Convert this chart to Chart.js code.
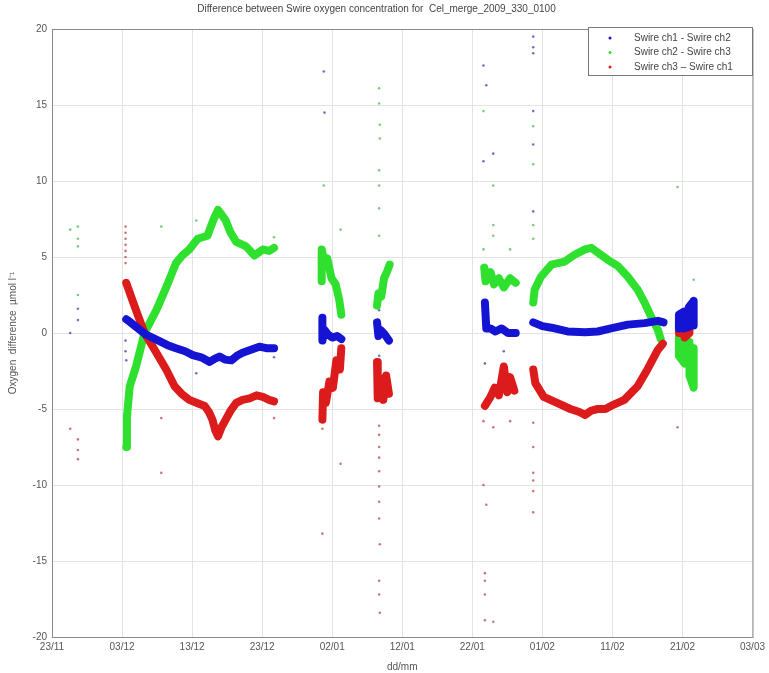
<!DOCTYPE html>
<html>
<head>
<meta charset="utf-8">
<script src="https://cdn.jsdelivr.net/npm/chart.js@4.4.1/dist/chart.umd.min.js"></script>
<style>
  html, body { margin: 0; padding: 0; background: #fff; }
  #wrap { width: 769px; height: 673px; }
</style>
</head>
<body>
<div id="wrap"><canvas id="c" width="769" height="673"></canvas></div>
<script>
// x = days since 23/11, y = difference (umol/l); null y breaks the band
const xTickLabels = ["23/11", "03/12", "13/12", "23/12", "02/01", "12/01", "22/01", "01/02", "11/02", "21/02", "03/03"];
const seriesNames = ["Swire ch1 - Swire ch2", "Swire ch2 - Swire ch3", "Swire ch3 \u2013 Swire ch1"];
const seriesColors = ["#1414d2", "#2fe02f", "#dc1c1c"];
const dotColors = ["rgba(40,40,150,0.65)", "rgba(60,170,60,0.65)", "rgba(170,50,50,0.65)"];

const ch12Band = [
  [10.6, 0.9], [11.2, 0.7], [12.0, 0.4], [13.4, -0.1], [15.2, -0.5], [16.5, -0.8], [17.7, -1.0], [19.0, -1.2],
  [20.1, -1.45], [21.3, -1.6], [22.5, -1.9], [23.2, -1.7], [23.9, -1.55], [24.7, -1.75], [25.6, -1.8],
  [26.4, -1.5], [27.2, -1.3], [28.4, -1.1], [29.6, -0.9], [30.6, -1.0], [31.7, -1.0], [32, null],
  [38.6, 1.0], [38.6, -0.5], [38.9, 0.2], [39.4, -0.1], [40.0, -0.3], [40.7, -0.2], [41.3, -0.4], [42, null],
  [46.4, 0.7], [46.6, -0.2], [46.9, 0.2], [47.5, -0.1], [48.1, -0.5], [49, null],
  [61.8, 2.0], [62.0, 0.3], [62.6, 0.3], [63.3, 0.1], [64.2, 0.3], [65.1, 0.0], [66.2, 0.0], [67, null],
  [68.7, 0.7], [70.0, 0.45], [71.3, 0.35], [73.6, 0.1], [76.1, 0.05], [77.9, 0.1], [79.8, 0.3], [82.2, 0.55],
  [84.6, 0.65], [86.5, 0.8], [87.3, 0.7], [88, null],
  [89.5, 0.3], [89.5, 1.2], [90.2, 1.4], [90.2, 0.3], [90.9, 0.4], [90.9, 1.7], [91.6, 2.1], [91.6, 0.5]
];
const ch23Band = [
  [10.6, -7.5], [10.7, -5.5], [11.1, -3.5], [12.0, -2.2], [13.2, 0.0], [14.9, 1.5], [16.3, 3.0], [17.7, 4.6],
  [18.6, 5.1], [19.6, 5.5], [20.8, 6.2], [22.2, 6.4], [23.0, 7.4], [23.7, 8.1], [24.2, 7.8], [24.8, 7.4],
  [25.5, 6.6], [26.3, 6.0], [27.7, 5.7], [28.9, 5.1], [30.1, 5.5], [31.0, 5.4], [31.7, 5.6], [32, null],
  [38.5, 3.4], [38.5, 5.5], [38.9, 4.6], [39.3, 4.9], [39.9, 3.6], [40.5, 3.2], [41.0, 2.2], [41.3, 1.2], [42, null],
  [46.4, 1.8], [46.6, 2.6], [47.0, 2.4], [47.4, 3.6], [47.8, 4.0], [48.2, 4.5], [49, null],
  [61.7, 4.3], [61.9, 3.4], [62.6, 4.0], [63.1, 3.2], [63.8, 3.6], [64.5, 3.0], [65.4, 3.6], [66.2, 3.3], [67, null],
  [68.7, 2.0], [68.9, 2.85], [69.8, 3.7], [71.3, 4.5], [73.2, 4.7], [74.6, 5.15], [76.1, 5.5], [77.0, 5.6],
  [77.9, 5.3], [79.4, 4.8], [80.8, 4.4], [82.2, 3.7], [83.6, 2.85], [84.6, 2.0], [85.5, 1.1], [86.5, 0.2],
  [86.9, -0.4], [88, null],
  [89.5, -0.3], [89.5, -1.5], [90.3, -2.0], [90.3, -0.5], [91.0, -0.6], [91.0, -2.8], [91.6, -3.6], [91.6, -1.0]
];
const ch31Band = [
  [10.6, 3.3], [11.6, 2.0], [12.4, 1.0], [13.2, 0.0], [14.0, -0.6], [14.9, -1.3], [16.3, -2.4], [17.5, -3.5],
  [18.5, -4.0], [19.6, -4.4], [20.7, -4.6], [21.8, -4.8], [22.4, -5.2], [22.9, -5.7], [23.3, -6.4], [23.7, -6.8],
  [24.2, -6.2], [24.8, -5.7], [25.5, -5.1], [26.3, -4.6], [27.2, -4.4], [28.2, -4.3], [29.2, -4.1], [30.1, -4.2],
  [31.0, -4.4], [31.7, -4.5], [32, null],
  [38.6, -5.7], [38.7, -3.9], [39.1, -4.6], [39.6, -3.2], [40.1, -3.6], [40.6, -1.8], [41.1, -2.4], [41.3, -1.0], [42, null],
  [46.4, -1.9], [46.5, -4.3], [47.0, -3.0], [47.3, -4.4], [47.7, -2.8], [48.1, -4.0], [49, null],
  [61.8, -4.8], [62.6, -4.2], [63.2, -3.6], [63.8, -4.1], [64.5, -2.2], [65.0, -3.9], [65.4, -2.9], [66.0, -3.8], [67, null],
  [68.7, -2.4], [69.0, -3.3], [70.2, -4.2], [72.1, -4.6], [74.0, -5.0], [75.3, -5.2], [76.1, -5.4], [77.0, -5.1],
  [77.9, -5.0], [79.0, -5.0], [79.8, -4.8], [81.7, -4.4], [83.6, -3.5], [85.0, -2.4], [86.5, -1.1], [87.2, -0.7], [88, null],
  [89.5, 0.0], [89.5, 0.5], [90.3, 0.6], [90.3, -0.3], [91.0, 0.0], [91.0, 0.8]
];

// scattered single samples
const ch12Dots = [
  [3.7, 0.85], [2.6, 0.0], [3.7, 1.6], [10.5, -0.5], [10.5, -1.2], [10.6, -1.8], [20.6, -2.65], [31.7, -1.6],
  [38.8, 17.2], [38.9, 14.5], [61.6, 17.6], [62.0, 16.3], [63.0, 11.8], [61.6, 11.3], [68.7, 19.5], [68.7, 18.8],
  [68.7, 18.4], [68.7, 14.6], [68.7, 12.4], [68.7, 8.0], [46.7, 1.5], [46.7, -1.5], [64.5, -1.2], [61.8, -2.0]
];
const ch23Dots = [
  [2.6, 6.8], [3.7, 7.0], [3.7, 6.2], [3.7, 5.7], [3.7, 2.5], [15.6, 7.0], [20.6, 7.4], [31.7, 6.3], [38.8, 9.7],
  [41.2, 6.8], [46.7, 16.1], [46.7, 15.1], [46.8, 13.7], [46.8, 12.8], [46.7, 10.7], [46.7, 9.7], [46.7, 8.2],
  [46.7, 6.4], [61.6, 14.6], [63.0, 9.7], [63.0, 7.1], [63.0, 6.4], [61.6, 5.5], [65.4, 5.5], [68.7, 13.6],
  [68.7, 11.1], [68.7, 7.1], [68.7, 6.2], [89.3, 9.6], [91.6, 3.5], [10.6, -6.5]
];
const ch31Dots = [
  [10.5, 7.0], [10.5, 6.6], [10.5, 6.2], [10.5, 5.8], [10.5, 5.4], [10.5, 5.0], [10.5, 4.6], [2.6, -6.3],
  [3.7, -7.0], [3.7, -7.7], [3.7, -8.3], [15.6, -9.2], [15.6, -5.6], [31.7, -5.6], [38.6, -6.3], [41.2, -8.6],
  [38.6, -13.2], [46.7, -6.1], [46.7, -6.7], [46.7, -7.5], [46.7, -8.2], [46.7, -9.1], [46.7, -10.1], [46.7, -11.1],
  [46.7, -12.2], [46.8, -13.9], [46.7, -16.3], [46.7, -17.2], [46.8, -18.4], [61.6, -5.8], [63.0, -6.2],
  [65.4, -5.8], [61.6, -10.0], [62.0, -11.3], [61.8, -15.8], [61.8, -16.3], [61.8, -17.2], [61.8, -18.9],
  [63.0, -19.0], [68.7, -5.9], [68.7, -7.5], [68.7, -9.2], [68.7, -9.7], [68.7, -10.4], [68.7, -11.8], [89.3, -6.2]
];

function pts(arr) {
  return arr.map(p => ({ x: p[0], y: p[1] }));
}

function band(arr, color, order) {
  return {
    data: pts(arr), showLine: true, spanGaps: false, borderColor: color, borderWidth: 8,
    borderJoinStyle: "round", borderCapStyle: "round", pointRadius: 0, order: order
  };
}

function dots(arr, color) {
  return {
    data: pts(arr), showLine: false, pointRadius: 1.3, pointBorderWidth: 0,
    backgroundColor: color, borderColor: color, order: 5
  };
}

// legend + box drawn inside the plot, MATLAB style
const boxLegend = {
  id: "boxLegend",
  afterDraw(chart) {
    const ctx = chart.ctx;
    const a = chart.chartArea;
    ctx.save();
    ctx.strokeStyle = "#8a8a8a";
    ctx.lineWidth = 1;
    ctx.strokeRect(a.left + 0.5, a.top + 0.5, a.right - a.left, a.bottom - a.top);
    const bx = 588, by = 27, bw = 164, bh = 48;
    ctx.fillStyle = "#fff";
    ctx.fillRect(bx, by, bw, bh);
    ctx.strokeStyle = "#777";
    ctx.strokeRect(bx + 0.5, by + 0.5, bw, bh);
    ctx.font = "10px 'Liberation Sans', Arial, sans-serif";
    ctx.textBaseline = "middle";
    for (let i = 0; i < seriesNames.length; i++) {
      const y = by + 11 + i * 14.5;
      ctx.fillStyle = seriesColors[i];
      ctx.beginPath();
      ctx.arc(bx + 22, y, 1.5, 0, Math.PI * 2);
      ctx.fill();
      ctx.fillStyle = "#444";
      ctx.fillText(seriesNames[i], bx + 46, y);
    }
    ctx.restore();
  }
};

const tickFont = { family: "'Liberation Sans', Arial, sans-serif", size: 10 };

new Chart(document.getElementById("c"), {
  type: "scatter",
  data: {
    datasets: [
      band(ch23Band, seriesColors[1], 3),
      band(ch31Band, seriesColors[2], 2),
      band(ch12Band, seriesColors[0], 1),
      dots(ch12Dots, dotColors[0]),
      dots(ch23Dots, dotColors[1]),
      dots(ch31Dots, dotColors[2])
    ]
  },
  options: {
    responsive: false,
    animation: false,
    layout: { padding: { left: 0, right: 16, top: 0, bottom: 0 } },
    plugins: {
      legend: { display: false },
      tooltip: { enabled: false },
      title: {
        display: true,
        text: "Difference between Swire oxygen concentration for  Cel_merge_2009_330_0100",
        color: "#444",
        font: { family: "'Liberation Sans', Arial, sans-serif", size: 10, weight: "normal" },
        padding: { top: 3, bottom: 14 }
      }
    },
    scales: {
      x: {
        type: "linear", min: 0, max: 100,
        ticks: {
          stepSize: 10, color: "#555", font: tickFont, padding: 4, maxRotation: 0,
          callback: (v) => xTickLabels[Math.round(v / 10)]
        },
        grid: { color: "#e3e3e3", tickLength: 0 },
        border: { color: "#8a8a8a" },
        title: { display: true, text: "dd/mm", color: "#555", font: tickFont, padding: 0 },
        afterFit: (s) => { s.height = 36; }
      },
      y: {
        min: -20, max: 20,
        ticks: { stepSize: 5, color: "#555", font: tickFont, padding: 5 },
        grid: { color: "#e3e3e3", tickLength: 0 },
        border: { color: "#8a8a8a" },
        title: {
          display: true, text: "Oxygen  difference  \u00b5mol l\u207b\u00b9", color: "#555", font: tickFont,
          padding: { top: 7, bottom: 0 }
        },
        afterFit: (s) => { s.width = 52; }
      }
    }
  },
  plugins: [boxLegend]
});
</script>
</body>
</html>
